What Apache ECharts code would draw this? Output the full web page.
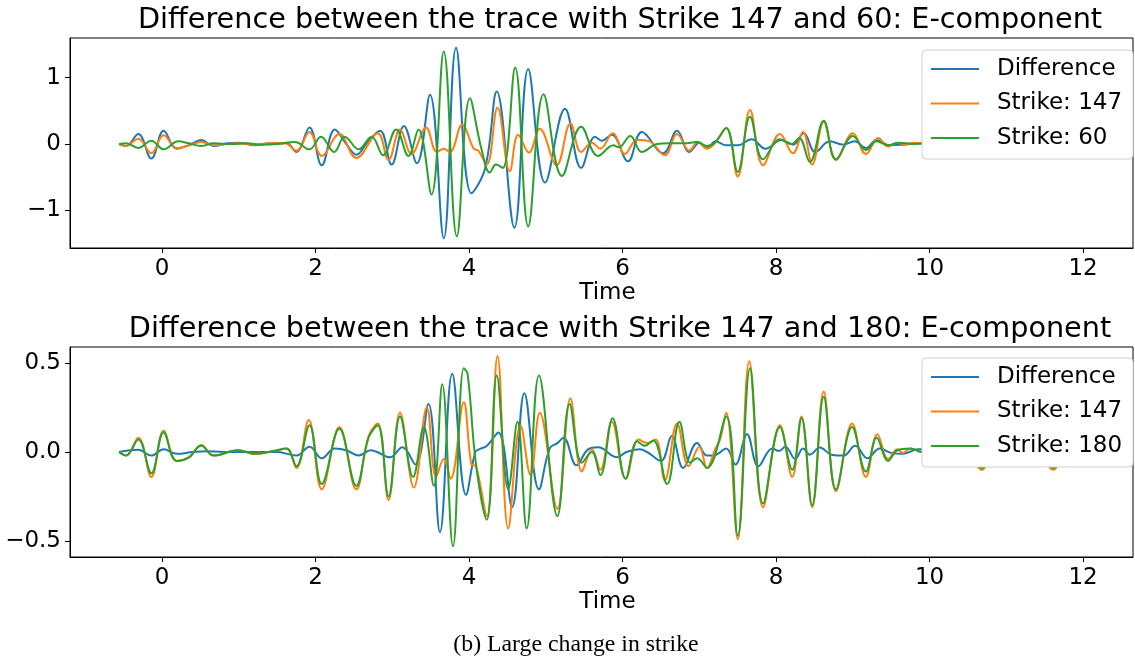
<!DOCTYPE html>
<html>
<head>
<meta charset="utf-8">
<script src="https://cdn.jsdelivr.net/npm/echarts@6/dist/echarts.min.js"></script>
<style>
  html, body { margin: 0; padding: 0; background: #fff; }
  #chart { width: 1135px; height: 660px; }
</style>
</head>
<body>
<div id="chart"></div>
<script>
// E-component seismograms: [time, amplitude] vertices of each trace
const diffA = [[-0.56,0],[-0.47,-0.03],[-0.31,0.15],[-0.14,-0.22],[0.02,0.20],[0.19,-0.07],[0.35,-0.02],[0.51,0.06],[0.67,-0.03],[0.85,0.01],[0.99,0.02],[1.21,-0.02],[1.40,0.01],[1.56,0.01],[1.62,0.02],[1.75,-0.12],[1.92,0.25],[2.08,-0.32],[2.25,0.22],[2.40,0.0],[2.53,-0.16],[2.69,0.05],[2.84,0.20],[2.99,-0.31],[3.15,0.27],[3.32,-0.29],[3.49,0.74],[3.67,-1.42],[3.83,1.45],[4.03,-0.74],[4.21,-0.36],[4.36,0.79],[4.59,-1.26],[4.77,1.13],[4.99,-0.58],[5.25,0.53],[5.46,-0.36],[5.64,0.11],[5.73,0.05],[5.86,0.14],[6.07,-0.26],[6.25,0.18],[6.53,-0.14],[6.71,0.20],[6.87,-0.12],[7.00,0.02],[7.10,-0.06],[7.21,0.04],[7.35,-0.02],[7.50,-0.02],[7.68,0.07],[7.86,-0.07],[8.07,0.06],[8.22,-0.01],[8.36,0.16],[8.51,-0.12],[8.70,0.04],[8.88,-0.01],[9.02,0.04],[9.17,-0.06],[9.31,0.06],[9.48,-0.02],[9.65,-0.01],[9.85,0.01],[10.2,0.02],[10.5,-0.02],[10.7,0.01],[11.0,-0.01],[11.3,0.01],[11.6,-0.01],[12.0,0]];
const strike147A = [[-0.56,0],[-0.47,-0.03],[-0.31,0.08],[-0.14,-0.14],[0.02,0.13],[0.19,-0.06],[0.35,-0.02],[0.51,0.03],[0.67,-0.02],[0.85,0.0],[1.0,0.01],[1.2,-0.01],[1.4,0.01],[1.6,0.01],[1.75,-0.10],[1.92,0.18],[2.08,-0.18],[2.31,0.15],[2.53,-0.21],[2.81,0.16],[2.95,-0.24],[3.10,0.22],[3.25,-0.15],[3.44,0.25],[3.58,-0.12],[3.67,-0.07],[3.75,-0.12],[3.91,0.29],[4.06,-0.07],[4.12,-0.10],[4.23,-0.31],[4.37,0.55],[4.53,-0.41],[4.64,0.14],[4.78,-0.13],[4.92,0.23],[5.14,-0.32],[5.32,0.31],[5.46,-0.12],[5.60,0.02],[5.71,-0.07],[5.87,0.16],[6.03,-0.15],[6.19,0.06],[6.35,0.04],[6.55,-0.17],[6.71,0.15],[6.87,-0.10],[6.98,0.03],[7.10,-0.07],[7.21,0.02],[7.35,0.24],[7.50,-0.49],[7.66,0.51],[7.83,-0.32],[8.05,0.15],[8.22,-0.14],[8.35,0.18],[8.47,-0.31],[8.62,0.33],[8.78,-0.24],[9.00,0.16],[9.17,-0.15],[9.33,0.09],[9.46,-0.04],[9.58,0.02],[9.68,-0.01],[9.80,0.02],[10.0,0.0],[10.3,0.03],[10.5,-0.03],[10.68,-0.09],[10.85,0.03],[11.1,-0.02],[11.4,0.02],[11.61,-0.09],[11.8,0.02],[12.0,0]];
const strike60A = [[-0.56,0],[-0.47,0.01],[-0.31,-0.06],[-0.14,0.05],[0.02,-0.08],[0.21,0.04],[0.35,0.01],[0.51,-0.03],[0.67,0.01],[0.90,0.0],[1.10,0.01],[1.30,-0.01],[1.50,0.0],[1.73,0.03],[1.92,-0.08],[2.07,0.11],[2.24,-0.12],[2.38,0.11],[2.56,-0.08],[2.73,0.11],[2.88,-0.17],[3.05,0.22],[3.21,-0.18],[3.34,0.22],[3.51,-0.76],[3.67,1.39],[3.84,-1.39],[4.01,0.69],[4.16,-0.07],[4.27,-0.43],[4.35,-0.31],[4.44,-0.36],[4.60,1.15],[4.77,-1.24],[4.97,0.75],[5.21,-0.48],[5.46,0.26],[5.68,-0.18],[5.88,-0.02],[5.95,-0.05],[6.10,0.12],[6.25,-0.12],[6.45,0.0],[6.60,0.01],[6.80,0.01],[6.97,0.03],[7.10,-0.03],[7.20,0.02],[7.35,0.24],[7.50,-0.42],[7.66,0.41],[7.83,-0.23],[8.05,0.07],[8.20,0.0],[8.30,0.09],[8.44,-0.27],[8.62,0.35],[8.78,-0.23],[9.00,0.12],[9.17,-0.09],[9.31,0.04],[9.46,-0.02],[9.60,0.02],[9.80,0.0],[10.0,0.01],[10.3,0.03],[10.5,-0.03],[10.68,-0.09],[10.85,0.03],[11.1,-0.02],[11.4,0.02],[11.61,-0.09],[11.8,0.02],[12.0,0]];

const diffB = [[-0.56,0],[-0.31,0.013],[-0.14,-0.02],[0.02,0.015],[0.19,-0.01],[0.40,0.0],[0.60,0.004],[0.90,0.0],[1.20,0.0],[1.50,0.0],[1.75,-0.02],[1.92,0.03],[2.08,-0.035],[2.25,0.02],[2.40,0.01],[2.56,-0.02],[2.72,0.01],[2.80,0.0],[2.97,-0.03],[3.13,0.026],[3.30,-0.07],[3.47,0.27],[3.62,-0.45],[3.78,0.44],[3.96,-0.24],[4.08,0.0],[4.13,0.015],[4.23,0.034],[4.38,0.11],[4.56,-0.31],[4.72,0.33],[4.91,-0.21],[5.05,0.02],[5.15,0.05],[5.23,0.08],[5.40,-0.075],[5.55,0.015],[5.68,0.026],[5.93,-0.03],[6.05,0.0],[6.22,0.015],[6.32,0.0],[6.50,-0.05],[6.64,0.09],[6.79,-0.09],[6.97,0.05],[7.10,-0.02],[7.22,-0.015],[7.35,0.02],[7.47,-0.07],[7.62,0.10],[7.77,-0.08],[7.95,0.02],[8.04,0.005],[8.12,0.03],[8.25,-0.04],[8.35,0.02],[8.44,-0.015],[8.57,0.025],[8.72,-0.015],[8.88,-0.02],[9.03,0.035],[9.19,-0.035],[9.35,0.02],[9.50,-0.005],[9.65,-0.01],[9.85,0.015],[10.2,0.0],[10.68,0.0],[11.0,0.0],[11.61,0.0],[12.0,0]];
const strike147B = [[-0.56,0],[-0.47,-0.02],[-0.31,0.08],[-0.14,-0.14],[0.02,0.12],[0.19,-0.05],[0.35,-0.03],[0.51,0.04],[0.67,-0.02],[0.99,0.01],[1.21,-0.01],[1.45,0.005],[1.62,0.02],[1.75,-0.09],[1.91,0.18],[2.08,-0.21],[2.31,0.14],[2.53,-0.21],[2.69,0.09],[2.81,0.16],[2.95,-0.27],[3.10,0.22],[3.28,-0.20],[3.45,0.25],[3.57,-0.14],[3.67,-0.04],[3.76,-0.15],[3.93,0.28],[4.03,-0.07],[4.09,-0.08],[4.23,-0.36],[4.37,0.54],[4.51,-0.43],[4.67,0.15],[4.80,-0.13],[4.92,0.22],[5.15,-0.32],[5.32,0.30],[5.47,-0.11],[5.60,0.015],[5.71,-0.10],[5.86,0.17],[6.04,-0.15],[6.21,0.07],[6.32,0.05],[6.43,0.07],[6.55,-0.16],[6.71,0.16],[6.86,-0.08],[7.00,0.03],[7.10,-0.09],[7.21,0.02],[7.27,0.07],[7.35,0.22],[7.50,-0.49],[7.65,0.51],[7.83,-0.31],[8.05,0.15],[8.21,-0.14],[8.33,0.20],[8.47,-0.31],[8.62,0.34],[8.78,-0.22],[8.99,0.16],[9.17,-0.14],[9.32,0.10],[9.46,-0.04],[9.58,0.015],[9.65,-0.005],[9.75,0.02],[9.90,0.0],[10.2,0.02],[10.5,-0.02],[10.68,-0.10],[10.85,0.03],[11.1,-0.02],[11.4,0.02],[11.61,-0.10],[11.8,0.02],[12.0,0]];
const strike180B = [[-0.56,0],[-0.47,-0.02],[-0.31,0.07],[-0.14,-0.12],[0.02,0.11],[0.19,-0.05],[0.35,-0.03],[0.51,0.035],[0.67,-0.02],[0.99,0.01],[1.21,-0.01],[1.45,0.005],[1.62,0.02],[1.75,-0.08],[1.92,0.15],[2.08,-0.18],[2.31,0.13],[2.53,-0.19],[2.69,0.08],[2.81,0.15],[2.95,-0.25],[3.10,0.20],[3.27,-0.14],[3.41,0.14],[3.54,-0.19],[3.65,0.38],[3.79,-0.53],[3.93,0.47],[3.98,0.44],[4.09,-0.07],[4.23,-0.38],[4.36,0.43],[4.51,-0.21],[4.63,0.17],[4.75,-0.43],[4.91,0.43],[5.15,-0.36],[5.31,0.27],[5.47,-0.06],[5.60,0.0],[5.71,-0.13],[5.87,0.19],[6.04,-0.15],[6.19,0.06],[6.29,0.035],[6.40,0.065],[6.58,-0.18],[6.74,0.17],[6.88,-0.06],[6.97,-0.035],[7.10,-0.09],[7.35,0.20],[7.50,-0.47],[7.66,0.47],[7.83,-0.29],[8.05,0.14],[8.21,-0.10],[8.33,0.19],[8.47,-0.30],[8.62,0.31],[8.78,-0.21],[8.99,0.14],[9.17,-0.11],[9.31,0.08],[9.46,-0.05],[9.58,0.01],[9.75,0.02],[9.90,0.0],[10.2,0.02],[10.5,-0.02],[10.68,-0.09],[10.85,0.03],[11.1,-0.02],[11.4,0.02],[11.61,-0.09],[11.8,0.02],[12.0,0]];

const timeTicks = [0, 2, 4, 6, 8, 10, 12];
const ampTicksA = [-1, 0, 1];
const ampTicksB = [-0.5, 0.0, 0.5];
const legendA = ['Difference', 'Strike: 147', 'Strike: 60'];
const legendB = ['Difference', 'Strike: 147', 'Strike: 180'];
const titleA = 'Difference between the trace with Strike 147 and 60: E-component';
const titleB = 'Difference between the trace with Strike 147 and 180: E-component';
const caption = '(b) Large change in strike';

const FONT = '"DejaVu Sans", "Liberation Sans", sans-serif';
const COLORS = ['#1f77b4', '#ff7f0e', '#2ca02c'];
const minus = s => String(s).replace('-', '\u2212');

function xAxisFor(gridIndex) {
  return {
    type: 'value', gridIndex, min: -1.2, max: 12.65,
    name: 'Time', nameLocation: 'middle', nameGap: 33,
    nameTextStyle: { fontFamily: FONT, fontSize: 23, color: '#000', padding: [0, 0, 0, 12] },
    axisLine: { show: true, onZero: false, lineStyle: { color: '#000', width: 1 } },
    axisTick: { show: true, length: 5, customValues: timeTicks, lineStyle: { color: '#000' } },
    axisLabel: { customValues: timeTicks, margin: 10, fontFamily: FONT, fontSize: 23, color: '#000',
                 formatter: v => minus(v) },
    splitLine: { show: false }
  };
}
function yAxisFor(gridIndex, lo, hi, ticks, digits) {
  return {
    type: 'value', gridIndex, min: lo, max: hi,
    axisLine: { show: true, onZero: false, lineStyle: { color: '#000', width: 1 } },
    axisTick: { show: true, length: 5, customValues: ticks, lineStyle: { color: '#000' } },
    axisLabel: { customValues: ticks, margin: 9, fontFamily: FONT, fontSize: 23, color: '#000',
                 formatter: v => minus(Number(v).toFixed(digits)) },
    splitLine: { show: false }
  };
}
function trace(name, data, color, idx) {
  return {
    type: 'line', name, data, xAxisIndex: idx, yAxisIndex: idx,
    symbol: 'none', showSymbol: false, smooth: 0.4, animation: false,
    lineStyle: { color, width: 2 }, itemStyle: { color }, z: 2
  };
}
function legendFor(data, top) {
  return {
    data, orient: 'vertical', left: 922, top,
    icon: 'rect', itemWidth: 48, itemHeight: 2, itemGap: 10.5,
    padding: [7, 11, 9, 9],
    backgroundColor: '#fff', borderColor: '#d0d0d0', borderWidth: 1, borderRadius: 4,
    selectedMode: false, z: 10,
    textStyle: { fontFamily: FONT, fontSize: 23, color: '#000', lineHeight: 24, padding: [0, 0, 0, 13] }
  };
}

const chart = echarts.init(document.getElementById('chart'), null, { renderer: 'canvas' });
chart.setOption({
  animation: false,
  backgroundColor: '#fff',
  grid: [
    { left: 70, top: 38, width: 1063, height: 210, show: true, borderColor: '#000', borderWidth: 1, backgroundColor: 'transparent' },
    { left: 70, top: 347, width: 1063, height: 210, show: true, borderColor: '#000', borderWidth: 1, backgroundColor: 'transparent' }
  ],
  xAxis: [xAxisFor(0), xAxisFor(1)],
  yAxis: [yAxisFor(0, -1.565, 1.595, ampTicksA, 0), yAxisFor(1, -0.59, 0.59, ampTicksB, 1)],
  legend: [legendFor(legendA, 50), legendFor(legendB, 358)],
  series: [
    trace(legendA[0], diffA, COLORS[0], 0),
    trace(legendA[1], strike147A, COLORS[1], 0),
    trace(legendA[2], strike60A, COLORS[2], 0),
    trace(legendB[0], diffB, COLORS[0], 1),
    trace(legendB[1], strike147B, COLORS[1], 1),
    trace(legendB[2], strike180B, COLORS[2], 1)
  ],
  graphic: [
    { type: 'text', style: { text: titleA, x: 620, y: 21, textAlign: 'center', textVerticalAlign: 'middle', font: '28.7px ' + FONT, fill: '#000' } },
    { type: 'text', style: { text: titleB, x: 620, y: 330, textAlign: 'center', textVerticalAlign: 'middle', font: '28.7px ' + FONT, fill: '#000' } },
    { type: 'text', style: { text: caption, x: 576, y: 645, textAlign: 'center', textVerticalAlign: 'middle', font: '23.8px "Liberation Serif", "Times New Roman", serif', fill: '#000' } }
  ]
});
</script>
</body>
</html>
